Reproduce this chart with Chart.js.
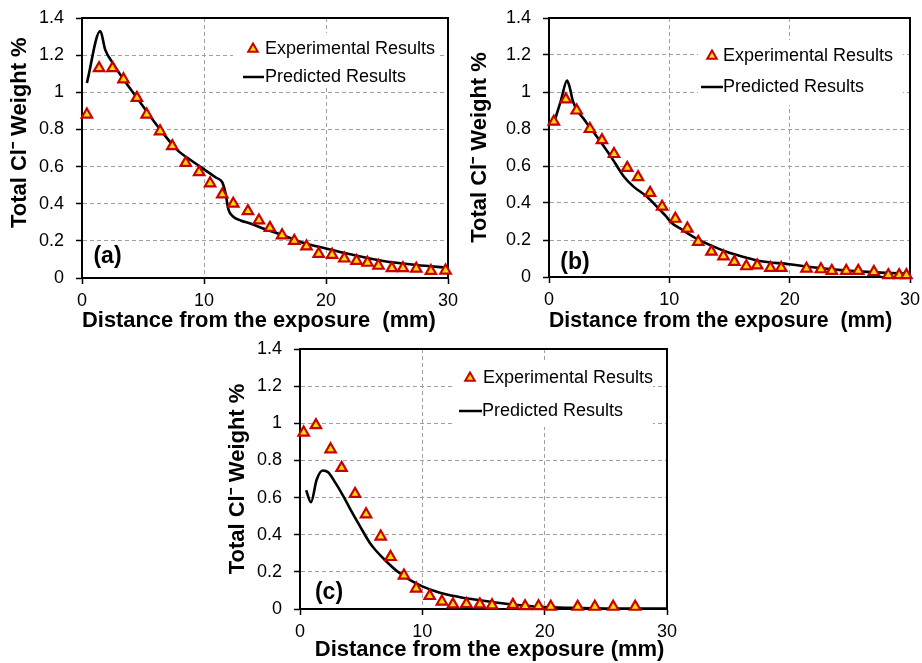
<!DOCTYPE html>
<html lang="en">
<head>
<meta charset="UTF-8">
<title>Total Cl- Weight % vs distance</title>
<script src="https://cdn.jsdelivr.net/npm/chart.js"></script>
<style>
  body { margin: 0; background: #fff; }
  #wrap { position: relative; width: 922px; height: 663px; overflow: hidden; background: #fff; }
  .panel { position: absolute; }
</style>
</head>
<body>
<div id="wrap">
  <canvas id="chartA" class="panel" width="460" height="340" style="left:0;top:0"></canvas>
  <canvas id="chartB" class="panel" width="460" height="340" style="left:462px;top:0"></canvas>
  <canvas id="chartC" class="panel" width="465" height="333" style="left:215px;top:330px"></canvas>
</div>

<script>
// ---- data ----
// panel (a)
const aExpX = [0.4, 1.4, 2.5, 3.4, 4.5, 5.3, 6.4, 7.4, 8.5, 9.6, 10.5, 11.5, 12.4, 13.6, 14.5, 15.4, 16.4, 17.4, 18.4, 19.4, 20.5, 21.5, 22.5, 23.4, 24.3, 25.4, 26.3, 27.4, 28.6, 29.8];
const aExpY = [0.88, 1.13, 1.13, 1.07, 0.97, 0.88, 0.79, 0.71, 0.62, 0.57, 0.51, 0.45, 0.40, 0.36, 0.31, 0.27, 0.23, 0.20, 0.17, 0.13, 0.125, 0.105, 0.092, 0.082, 0.066, 0.053, 0.053, 0.05, 0.038, 0.04];
const aPredX = [0.4, 1.5, 1.9, 2.5, 3.4, 4.5, 5.6, 6.7, 7.8, 8.9, 10.0, 11.0, 11.5, 11.75, 12.0, 12.4, 13.0, 13.8, 15.1, 16.5, 17.9, 20.0, 22.0, 24.7, 27.4, 30.0];
const aPredY = [1.05, 1.33, 1.23, 1.16, 1.07, 0.97, 0.87, 0.775, 0.69, 0.635, 0.585, 0.54, 0.515, 0.46, 0.37, 0.33, 0.31, 0.293, 0.261, 0.23, 0.194, 0.159, 0.128, 0.092, 0.07, 0.055];

// panel (b)
const bExpX = [0.4, 1.4, 2.3, 3.4, 4.4, 5.4, 6.5, 7.4, 8.4, 9.4, 10.5, 11.5, 12.4, 13.5, 14.5, 15.4, 16.4, 17.3, 18.4, 19.3, 21.4, 22.6, 23.5, 24.7, 25.7, 27.0, 28.2, 29.1, 29.7];
const bExpY = [0.84, 0.96, 0.90, 0.80, 0.74, 0.665, 0.59, 0.54, 0.455, 0.38, 0.315, 0.262, 0.19, 0.137, 0.112, 0.082, 0.058, 0.063, 0.049, 0.049, 0.045, 0.042, 0.033, 0.033, 0.033, 0.027, 0.01, 0.01, 0.01];
const bPredX = [0.45, 1.0, 1.5, 1.7, 2.0, 3.0, 4.0, 5.0, 5.5, 6.2, 7.0, 8.1, 9.2, 9.7, 10.2, 11.0, 12.0, 13.4, 14.8, 16.2, 17.5, 20.0, 21.7, 24.5, 27.2, 30.0];
const bPredY = [0.84, 0.956, 1.062, 1.03, 0.948, 0.845, 0.757, 0.665, 0.615, 0.545, 0.49, 0.436, 0.364, 0.33, 0.292, 0.258, 0.217, 0.172, 0.135, 0.108, 0.087, 0.069, 0.054, 0.036, 0.025, 0.018];

// panel (c)
const cExpX = [0.3, 1.3, 2.5, 3.4, 4.5, 5.4, 6.6, 7.4, 8.5, 9.5, 10.6, 11.6, 12.5, 13.6, 14.7, 15.7, 17.4, 18.4, 19.5, 20.5, 22.7, 24.1, 25.6, 27.4];
const cExpY = [0.95, 0.99, 0.86, 0.76, 0.62, 0.51, 0.39, 0.28, 0.18, 0.11, 0.07, 0.04, 0.025, 0.027, 0.025, 0.02, 0.022, 0.015, 0.015, 0.012, 0.012, 0.012, 0.012, 0.012];
const cPredX = [0.5, 0.9, 1.36, 1.86, 2.3, 2.9, 3.55, 4.2, 4.9, 5.7, 6.2, 7.0, 8.0, 9.0, 10.0, 11.0, 12.0, 13.0, 14.0, 15.0, 16.0, 17.0, 18.0, 20.0, 22.0, 25.0, 30.0];
const cPredY = [0.64, 0.575, 0.696, 0.746, 0.736, 0.679, 0.607, 0.527, 0.446, 0.357, 0.315, 0.26, 0.2, 0.155, 0.122, 0.097, 0.078, 0.065, 0.054, 0.044, 0.035, 0.027, 0.02, 0.01, 0.006, 0.003, 0.002];

const xTicks = [0, 10, 20, 30];
const yTickLabels = ['0', '0.2', '0.4', '0.6', '0.8', '1', '1.2', '1.4'];
const expLabel = 'Experimental Results';
const predLabel = 'Predicted Results';
const yTitle = 'Total Cl\u207B Weight %';
const xTitleWide = 'Distance from the exposure  (mm)';
const xTitleNarrow = 'Distance from the exposure (mm)';

const FONT = '"Liberation Sans", Arial, Helvetica, sans-serif';
const TRI_FILL = '#FFDD00';
const TRI_EDGE = '#C80000';
const GRID = '#A0A0A0';

Chart.defaults.font.family = FONT;
Chart.defaults.color = '#000';

function toPoints(xs, ys) {
  return xs.map((x, i) => ({ x: x, y: ys[i] }));
}

function triangle(ctx, x, y, r) {
  ctx.beginPath();
  for (let k = 0; k < 3; k++) {
    const ang = -Math.PI / 2 + k * 2 * Math.PI / 3;
    const px = x + r * Math.cos(ang), py = y + r * Math.sin(ang);
    if (k === 0) ctx.moveTo(px, py); else ctx.lineTo(px, py);
  }
  ctx.closePath();
}

// frame, legend box and panel tag
const panelDecor = {
  id: 'panelDecor',
  beforeDatasetsDraw(chart, args, opts) {
    const { ctx, chartArea: a } = chart;
    const L = opts.legend;
    ctx.save();
    ctx.fillStyle = '#fff';
    ctx.fillRect(L.box[0], L.box[1], L.box[2], L.box[3]);
    ctx.strokeStyle = '#000';
    ctx.lineWidth = 2;
    ctx.strokeRect(a.left, a.top, a.right - a.left, a.bottom - a.top);
    ctx.restore();
  },
  afterDraw(chart, args, opts) {
    const { ctx } = chart;
    const L = opts.legend;
    ctx.save();
    // triangle entry
    ctx.fillStyle = TRI_FILL;
    ctx.strokeStyle = TRI_EDGE;
    ctx.lineWidth = 2;
    triangle(ctx, L.triX, L.row1Y, 5.5);
    ctx.fill();
    ctx.stroke();
    // line entry
    ctx.strokeStyle = '#000';
    ctx.lineWidth = 2.5;
    ctx.beginPath();
    ctx.moveTo(L.lineX1, L.row2Y);
    ctx.lineTo(L.lineX2, L.row2Y);
    ctx.stroke();
    ctx.fillStyle = '#000';
    ctx.font = '18px ' + FONT;
    ctx.textBaseline = 'middle';
    ctx.textAlign = 'left';
    ctx.fillText(expLabel, L.text1X, L.row1Y);
    ctx.fillText(predLabel, L.text2X, L.row2Y);
    // panel tag
    ctx.font = 'bold 23px ' + FONT;
    ctx.textAlign = 'center';
    ctx.fillText(opts.tag.text, opts.tag.x, opts.tag.y);
    ctx.restore();
  }
};

function makePanel(id, p) {
  const axisGrid = {
    color: GRID,
    lineWidth: 1,
    tickColor: '#000',
    tickLength: 6,
    tickWidth: 1.5,
    tickBorderDash: []
  };
  const axisBorder = { color: '#000', width: 2, dash: [4, 3] };

  return new Chart(document.getElementById(id), {
    type: 'scatter',
    data: {
      datasets: [
        {
          label: expLabel,
          data: toPoints(p.expX, p.expY),
          pointStyle: 'triangle',
          pointRadius: 6,
          pointHoverRadius: 6,
          backgroundColor: TRI_FILL,
          borderColor: TRI_EDGE,
          borderWidth: 2.2,
          clip: false,
          order: 1
        },
        {
          label: predLabel,
          type: 'line',
          data: toPoints(p.predX, p.predY),
          borderColor: '#000',
          borderWidth: 2.6,
          pointRadius: 0,
          fill: false,
          cubicInterpolationMode: 'monotone',
          order: 2
        }
      ]
    },
    options: {
      responsive: false,
      animation: false,
      layout: { autoPadding: false, padding: { top: p.padTop, right: p.padRight, left: 0, bottom: 0 } },
      plugins: {
        legend: { display: false },
        tooltip: { enabled: false },
        panelDecor: { legend: p.legend, tag: p.tag }
      },
      scales: {
        x: {
          type: 'linear',
          min: 0,
          max: 30,
          afterFit: s => { s.height = p.xAxisH; s.paddingLeft = 0; s.paddingRight = 0; },
          afterBuildTicks: s => { s.ticks = xTicks.map(v => ({ value: v })); },
          ticks: { font: { size: 18 }, padding: 6, color: '#000', maxRotation: 0 },
          grid: axisGrid,
          border: axisBorder,
          title: {
            display: true,
            text: p.xTitle,
            color: '#000',
            font: { size: 22, weight: 'bold' },
            padding: { top: 0, bottom: p.xTitlePad }
          }
        },
        y: {
          type: 'linear',
          min: 0,
          max: 1.4,
          afterFit: s => { s.width = p.yAxisW; s.paddingTop = 0; s.paddingBottom = 0; },
          afterBuildTicks: s => { s.ticks = yTickLabels.map(t => ({ value: parseFloat(t) })); },
          ticks: {
            font: { size: 18 },
            padding: 12,
            color: '#000',
            callback: (v, i) => yTickLabels[i]
          },
          grid: axisGrid,
          border: axisBorder,
          title: {
            display: true,
            text: p.yTitle,
            color: '#000',
            font: { size: 22, weight: 'bold' },
            padding: { top: p.yTitlePad, bottom: 0 }
          }
        }
      }
    },
    plugins: [panelDecor]
  });
}

makePanel('chartA', {
  expX: aExpX, expY: aExpY, predX: aPredX, predY: aPredY,
  padTop: 18, padRight: 12, yAxisW: 82, xAxisH: 62,
  xTitle: xTitleWide + '  ', xTitlePad: 6,
  yTitle: '     ' + yTitle, yTitlePad: 7,
  legend: { box: [233, 33, 207, 55], triX: 253, row1Y: 49, text1X: 265, lineX1: 243, lineX2: 264, row2Y: 77, text2X: 265 },
  tag: { text: '(a)', x: 107.5, y: 257 }
});

makePanel('chartB', {
  expX: bExpX, expY: bExpY, predX: bPredX, predY: bPredY,
  padTop: 18, padRight: 12, yAxisW: 87, xAxisH: 63,
  xTitle: xTitleWide + '   ', xTitlePad: 6,
  yTitle: yTitle, yTitlePad: 5,
  legend: { box: [236, 40, 205, 65], triX: 250, row1Y: 56, text1X: 261, lineX1: 239, lineX2: 261, row2Y: 87, text2X: 261 },
  tag: { text: '(b)', x: 113, y: 263 }
});

makePanel('chartC', {
  expX: cExpX, expY: cExpY, predX: cPredX, predY: cPredY,
  padTop: 19, padRight: 13, yAxisW: 85, xAxisH: 54,
  xTitle: '  ' + xTitleNarrow, xTitlePad: 0,
  yTitle: yTitle, yTitlePad: 10,
  legend: { box: [240, 33, 198, 64], triX: 255, row1Y: 48, text1X: 268, lineX1: 244, lineX2: 267, row2Y: 81, text2X: 267 },
  tag: { text: '(c)', x: 114, y: 263 }
});
</script>
</body>
</html>
